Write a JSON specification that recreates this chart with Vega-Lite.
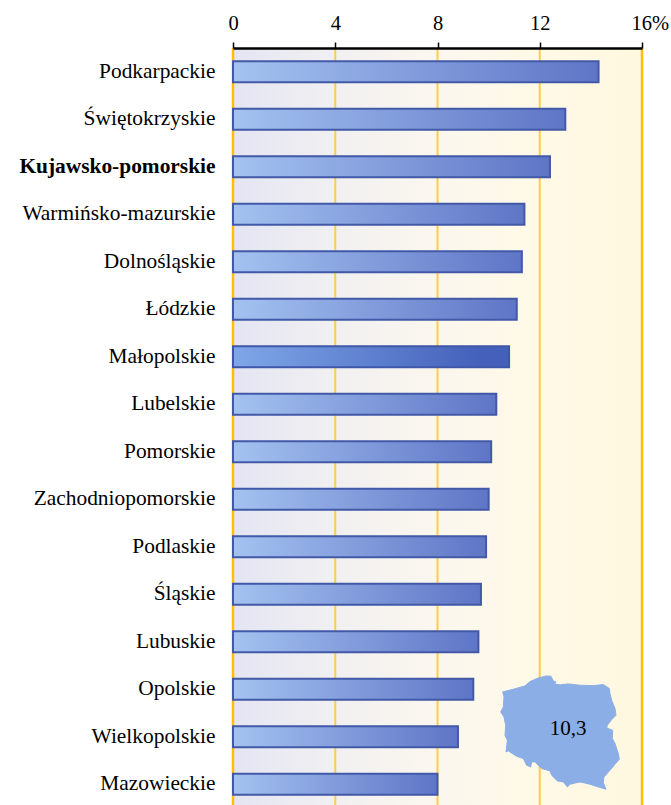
{"$schema":"https://vega.github.io/schema/vega-lite/v6.json","width":409,"height":757,"autosize":{"type":"none"},"padding":{"left":233,"top":48,"right":29,"bottom":0},"background":"#ffffff","config":{"view":{"stroke":null},"font":"Liberation Serif"},"datasets":{"regions":[{"name":"Podkarpackie","value":14.3},{"name":"Świętokrzyskie","value":13.0},{"name":"Kujawsko-pomorskie","value":12.4},{"name":"Warmińsko-mazurskie","value":11.4},{"name":"Dolnośląskie","value":11.3},{"name":"Łódzkie","value":11.1},{"name":"Małopolskie","value":10.8},{"name":"Lubelskie","value":10.3},{"name":"Pomorskie","value":10.1},{"name":"Zachodniopomorskie","value":10.0},{"name":"Podlaskie","value":9.9},{"name":"Śląskie","value":9.7},{"name":"Lubuskie","value":9.6},{"name":"Opolskie","value":9.4},{"name":"Wielkopolskie","value":8.8},{"name":"Mazowieckie","value":8.0}],"outline":[{"i":0,"px":10.549,"py":643.9},{"i":1,"px":10.967,"py":641.25},{"i":2,"px":11.423,"py":637.9},{"i":3,"px":11.619,"py":633.6},{"i":4,"px":11.945,"py":629.9},{"i":5,"px":12.271,"py":627.9},{"i":6,"px":12.44,"py":628.25},{"i":7,"px":12.531,"py":632.9},{"i":8,"px":12.636,"py":633.9},{"i":9,"px":12.558,"py":635.6},{"i":10,"px":12.792,"py":636.9},{"i":11,"px":13.118,"py":635.9},{"i":12,"px":13.575,"py":637.25},{"i":13,"px":14.096,"py":637.6},{"i":14,"px":14.487,"py":636.6},{"i":15,"px":14.722,"py":640.6},{"i":16,"px":14.748,"py":645.6},{"i":17,"px":14.813,"py":652.25},{"i":18,"px":14.944,"py":660.6},{"i":19,"px":14.983,"py":667.25},{"i":20,"px":14.813,"py":671.6},{"i":21,"px":14.644,"py":677.25},{"i":22,"px":14.618,"py":679.9},{"i":23,"px":14.853,"py":682.25},{"i":24,"px":14.839,"py":690.6},{"i":25,"px":14.944,"py":695.6},{"i":26,"px":15.074,"py":705.6},{"i":27,"px":15.113,"py":711.25},{"i":28,"px":14.944,"py":716.25},{"i":29,"px":14.748,"py":722.25},{"i":30,"px":14.513,"py":728.9},{"i":31,"px":14.487,"py":734.9},{"i":32,"px":14.592,"py":741.25},{"i":33,"px":14.292,"py":738.9},{"i":34,"px":13.966,"py":736.25},{"i":35,"px":13.575,"py":733.9},{"i":36,"px":13.183,"py":736.25},{"i":37,"px":13.079,"py":738.9},{"i":38,"px":12.923,"py":733.9},{"i":39,"px":12.688,"py":732.9},{"i":40,"px":12.466,"py":727.25},{"i":41,"px":12.401,"py":722.9},{"i":42,"px":12.075,"py":720.6},{"i":43,"px":11.814,"py":713.9},{"i":44,"px":11.684,"py":713.9},{"i":45,"px":11.645,"py":718.9},{"i":46,"px":11.488,"py":717.25},{"i":47,"px":11.358,"py":710.6},{"i":48,"px":11.097,"py":708.25},{"i":49,"px":10.771,"py":702.9},{"i":50,"px":10.68,"py":703.9},{"i":51,"px":10.732,"py":692.25},{"i":52,"px":10.641,"py":687.25},{"i":53,"px":10.667,"py":677.25},{"i":54,"px":10.601,"py":668.9},{"i":55,"px":10.471,"py":663.9},{"i":56,"px":10.575,"py":658.9},{"i":57,"px":10.601,"py":648.9},{"i":58,"px":10.549,"py":643.9}]},"resolve":{"scale":{"y":"independent"}},"layer":[{"data":{"values":[{"from":0,"to":16}]},"mark":{"type":"rect","fill":{"gradient":"linear","x1":0,"y1":0,"x2":1,"y2":0,"stops":[{"offset":0,"color":"#E4E5F3"},{"offset":0.25,"color":"#F1F0F1"},{"offset":0.5,"color":"#FBF7EF"},{"offset":0.75,"color":"#FFF9E6"},{"offset":1,"color":"#FFF8E0"}]}},"encoding":{"x":{"field":"from","type":"quantitative","scale":{"domain":[0,16],"nice":false},"title":null,"axis":{"orient":"top","values":[0,4,8,12,16],"grid":false,"domainColor":"#000000","domainWidth":2.5,"tickColor":"#000000","tickWidth":1.5,"tickSize":6,"labelFontSize":20.5,"labelColor":"#000000","labelFont":"Liberation Serif","labelPadding":9,"labelFlush":false,"labelOverlap":false,"labelBound":false,"labelExpr":"datum.value == 16 ? '16%' : datum.label","labelAlign":{"condition":{"test":"datum.value == 16","value":"left"},"value":"center"},"labelOffset":{"condition":{"test":"datum.value == 16","value":-11},"value":0},"zindex":1}},"x2":{"field":"to"}}},{"data":{"values":[{"v":0},{"v":4},{"v":8},{"v":12},{"v":16}]},"mark":{"type":"rule"},"encoding":{"x":{"field":"v","type":"quantitative"},"color":{"condition":{"test":"datum.v == 0 || datum.v == 16","value":"#FFC000"},"value":"#FFCC4D"},"strokeWidth":{"condition":{"test":"datum.v == 0 || datum.v == 16","value":2.5},"value":2}}},{"data":{"name":"regions"},"transform":[{"filter":"datum.name !== 'Małopolskie'"}],"mark":{"type":"bar","size":21,"strokeWidth":2,"stroke":"#4259A8","fill":{"gradient":"linear","x1":0,"y1":0,"x2":1,"y2":0,"stops":[{"offset":0,"color":"#A4C2F0"},{"offset":1,"color":"#5F75C6"}]}},"encoding":{"x":{"field":"value","type":"quantitative"},"y":{"field":"name","type":"nominal","sort":null,"title":null,"scale":{"domain":["Podkarpackie","Świętokrzyskie","Kujawsko-pomorskie","Warmińsko-mazurskie","Dolnośląskie","Łódzkie","Małopolskie","Lubelskie","Pomorskie","Zachodniopomorskie","Podlaskie","Śląskie","Lubuskie","Opolskie","Wielkopolskie","Mazowieckie"],"range":[0,760],"paddingInner":0,"paddingOuter":0},"axis":{"orient":"left","domain":false,"ticks":false,"grid":false,"labelFontSize":21.4,"labelColor":"#000000","labelFont":"Liberation Serif","labelPadding":18,"labelLimit":230,"labelFontWeight":{"condition":{"test":"datum.value == 'Kujawsko-pomorskie'","value":"bold"},"value":"normal"}}}}},{"data":{"name":"regions"},"transform":[{"filter":"datum.name === 'Małopolskie'"}],"mark":{"type":"bar","size":21,"strokeWidth":2,"stroke":"#3F57A8","fill":{"gradient":"linear","x1":0,"y1":0,"x2":1,"y2":0,"stops":[{"offset":0,"color":"#7FA7E8"},{"offset":0.9,"color":"#4460BA"},{"offset":1,"color":"#4460BA"}]}},"encoding":{"x":{"field":"value","type":"quantitative"},"y":{"field":"name","type":"nominal","sort":null,"title":null,"scale":{"domain":["Podkarpackie","Świętokrzyskie","Kujawsko-pomorskie","Warmińsko-mazurskie","Dolnośląskie","Łódzkie","Małopolskie","Lubelskie","Pomorskie","Zachodniopomorskie","Podlaskie","Śląskie","Lubuskie","Opolskie","Wielkopolskie","Mazowieckie"],"range":[0,760],"paddingInner":0,"paddingOuter":0},"axis":null}}},{"data":{"name":"outline"},"mark":{"type":"line","fill":"#8BAEE6","stroke":"#8BAEE6","strokeWidth":1,"interpolate":"linear"},"encoding":{"x":{"field":"px","type":"quantitative"},"y":{"field":"py","type":"quantitative","scale":{"domain":[0,760],"range":[0,760],"nice":false,"zero":false},"axis":null},"order":{"field":"i","type":"quantitative"}}},{"data":{"values":[{"px":13.11,"py":681.25,"label":"10,3"}]},"mark":{"type":"text","fontSize":21,"font":"Liberation Serif","color":"#000000","align":"center","baseline":"middle"},"encoding":{"x":{"field":"px","type":"quantitative"},"y":{"field":"py","type":"quantitative","scale":{"domain":[0,760],"range":[0,760],"nice":false,"zero":false},"axis":null},"text":{"field":"label"}}}]}
